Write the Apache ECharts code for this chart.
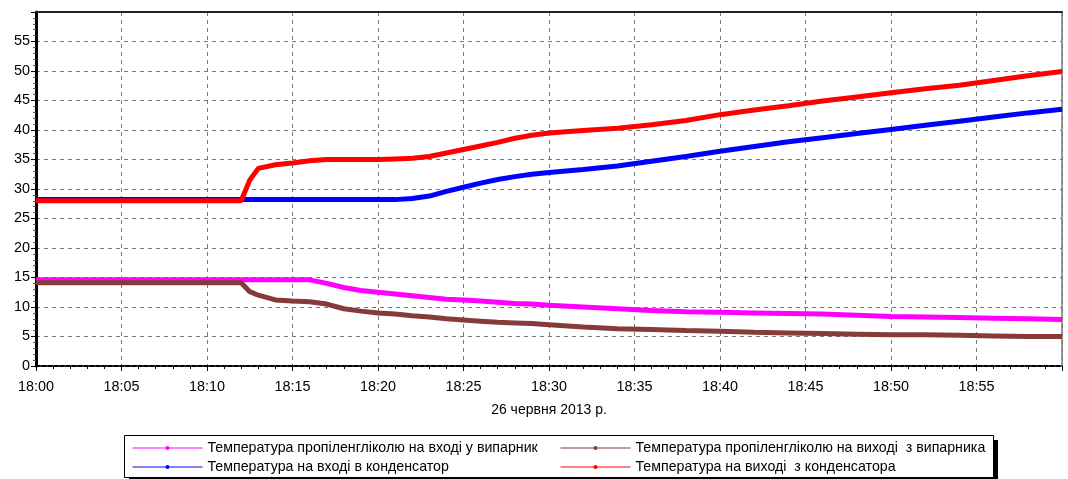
<!DOCTYPE html>
<html>
<head>
<meta charset="utf-8">
<script src="https://cdn.jsdelivr.net/npm/echarts@6/dist/echarts.min.js"></script>
<style>
  html, body { margin: 0; padding: 0; background: #fff; }
  #chart { width: 1068px; height: 479px; }
</style>
</head>
<body>
<div id="chart"></div>
<script>
// хвилини після 18:00
const minutes = [0, 5, 10, 12, 12.5, 13, 14, 15, 16, 17, 18, 19, 20, 21, 22, 23, 24, 25, 26, 27, 28, 29, 30,
  32, 34, 36, 38, 40, 42, 44, 46, 48, 50, 52, 54, 56, 58, 60];

const glycolIn = [14.6, 14.6, 14.6, 14.6, 14.6, 14.6, 14.6, 14.6, 14.6, 14.0, 13.3, 12.8, 12.5, 12.2, 11.9, 11.6, 11.3, 11.2, 11.0, 10.8, 10.6, 10.5, 10.3,
  10.0, 9.7, 9.4, 9.2, 9.1, 9.0, 8.9, 8.8, 8.6, 8.4, 8.3, 8.2, 8.1, 8.0, 7.9];
const glycolOut = [14.1, 14.1, 14.1, 14.1, 12.6, 12.0, 11.2, 11.0, 10.9, 10.5, 9.7, 9.3, 9.0, 8.8, 8.5, 8.3, 8.0, 7.8, 7.6, 7.4, 7.3, 7.2, 7.0,
  6.6, 6.3, 6.2, 6.0, 5.9, 5.7, 5.6, 5.5, 5.4, 5.3, 5.3, 5.2, 5.1, 5.0, 5.0];
const condIn = [28.2, 28.2, 28.2, 28.2, 28.2, 28.2, 28.2, 28.2, 28.2, 28.2, 28.2, 28.2, 28.2, 28.2, 28.4, 28.8, 29.6, 30.3, 31.0, 31.6, 32.1, 32.5, 32.8,
  33.3, 33.9, 34.7, 35.5, 36.4, 37.2, 38.0, 38.7, 39.4, 40.1, 40.8, 41.5, 42.2, 42.9, 43.5];
const condOut = [28.0, 28.0, 28.0, 28.0, 31.5, 33.5, 34.1, 34.4, 34.8, 35.0, 35.0, 35.0, 35.0, 35.1, 35.2, 35.5, 36.1, 36.7, 37.3, 37.9, 38.6, 39.1, 39.5,
  39.9, 40.3, 40.9, 41.6, 42.6, 43.4, 44.1, 44.9, 45.6, 46.3, 47.0, 47.6, 48.4, 49.2, 49.9];

const names = [
  'Температура пропіленгліколю на вході у випарник',
  'Температура пропіленгліколю на виході  з випарника',
  'Температура на вході в конденсатор',
  'Температура на виході  з конденсатора'
];
const colors = ['#ff00ff', '#873a3a', '#0000ff', '#ff0000'];
const values = [glycolIn, glycolOut, condIn, condOut];

const FONT = '"Liberation Sans", Arial, sans-serif';

const chart = echarts.init(document.getElementById('chart'));

const pair = arr => minutes.map((m, i) => [m, arr[i]]);

const legendBase = {
  orient: 'vertical',
  top: 441,
  height: 60,
  padding: 0,
  itemWidth: 70,
  itemHeight: 5,
  itemGap: 5,
  lineStyle: { width: 1 },
  textStyle: { fontFamily: FONT, fontSize: 14.2, color: '#000' },
  selectedMode: false
};

const option = {
  animation: false,
  grid: {
    left: 36, right: 6, top: 12, bottom: 113,
    show: true, borderColor: '#333', borderWidth: 1
  },
  legend: [
    Object.assign({}, legendBase, { left: 132, data: [names[0], names[2]] }),
    Object.assign({}, legendBase, { left: 560, data: [names[1], names[3]] })
  ],
  graphic: [
    {
      type: 'rect', left: 129, top: 440, z: -1,
      shape: { width: 869, height: 42 },
      style: { fill: '#000' }
    },
    {
      type: 'rect', left: 124, top: 435, z: 0,
      shape: { width: 869, height: 42 },
      style: { fill: '#fff', stroke: '#000', lineWidth: 1 }
    }
  ],
  xAxis: [
    {
      type: 'value', min: 0, max: 60, interval: 5,
      name: '26 червня 2013 р.', nameLocation: 'middle', nameGap: 37,
      nameTextStyle: { fontFamily: FONT, fontSize: 14, color: '#000' },
      axisLine: { onZero: false, lineStyle: { color: '#000', width: 2, type: [4, 2] } },
      axisTick: { show: true, length: 5, lineStyle: { color: '#000' } },
      minorTick: { show: true, splitNumber: 5, length: 3, lineStyle: { color: '#000' } },
      axisLabel: {
        fontFamily: FONT, fontSize: 14.4, color: '#000', margin: 14, showMaxLabel: false,
        formatter: v => '18:' + String(v).padStart(2, '0')
      },
      splitLine: { show: true, lineStyle: { color: '#777', type: [4, 4], width: 1 } }
    },
    {
      type: 'value', min: 0, max: 60, position: 'top',
      axisLine: { show: true, onZero: false, lineStyle: { color: '#222', width: 2 } },
      axisTick: { show: false }, axisLabel: { show: false }, splitLine: { show: false }
    }
  ],
  yAxis: {
    type: 'value', min: 0, max: 60, interval: 5,
    axisLine: { show: true, lineStyle: { color: '#000', width: 3 } },
    axisTick: { show: true, length: 5, lineStyle: { color: '#000' } },
    minorTick: { show: true, splitNumber: 5, length: 3, lineStyle: { color: '#555' } },
    axisLabel: { fontFamily: FONT, fontSize: 14.4, color: '#000', margin: 6, showMaxLabel: false },
    splitLine: { show: true, lineStyle: { color: '#777', type: [4, 4], width: 1 } }
  },
  series: values.map((arr, i) => ({
    name: names[i],
    type: 'line',
    data: pair(arr),
    color: colors[i],
    showSymbol: false,
    symbol: 'circle',
    lineStyle: { width: 5, color: colors[i] }
  }))
};

chart.setOption(option);
</script>
</body>
</html>
